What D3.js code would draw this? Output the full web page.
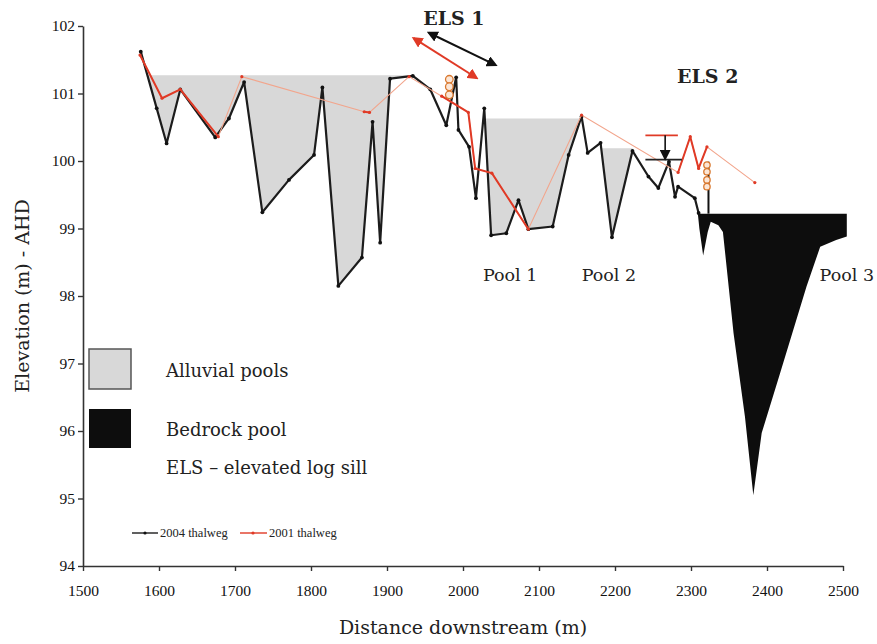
<!DOCTYPE html>
<html>
<head>
<meta charset="utf-8">
<script src="https://cdn.jsdelivr.net/npm/d3@7"></script>
<style>
body { margin: 0; background: #fff; }
svg { display: block; }
.lbl { font-family: "DejaVu Serif", serif; fill: #222; }
</style>
</head>
<body>
<div id="chart"></div>
<script>
// 2004 thalweg survey [distance, elevation]
const thalweg2004 = [
    [1576, 101.62], [1597, 100.78], [1610, 100.26], [1628, 101.06], [1674, 100.35], [1692, 100.63],
    [1712, 101.17], [1736, 99.24], [1771, 99.72], [1804, 100.09], [1815, 101.09], [1836, 98.15],
    [1867, 98.57], [1881, 100.58], [1891, 98.79], [1904, 101.22], [1934, 101.26], [1957, 101.06],
    [1978, 100.53], [1991, 101.24], [1994, 100.46], [2008, 100.21], [2017, 99.45], [2028, 100.78],
    [2037, 98.9], [2057, 98.93], [2073, 99.42], [2086, 98.99], [2118, 99.03], [2139, 100.09],
    [2156, 100.66], [2164, 100.12], [2181, 100.27], [2196, 98.87], [2223, 100.15], [2244, 99.77],
    [2257, 99.6], [2271, 99.99], [2279, 99.47], [2283, 99.62], [2305, 99.45], [2310, 99.23]
];
// 2001 thalweg survey
const thalweg2001 = [
    [1575, 101.57], [1604, 100.93], [1628, 101.06], [1678, 100.36], [1709, 101.25], [1870, 100.73],
    [1877, 100.72], [1929, 101.25], [1972, 100.96], [2007, 100.72], [2016, 99.89], [2038, 99.82],
    [2086, 98.99], [2156, 100.68], [2283, 99.83], [2299, 100.36], [2310, 99.89], [2321, 100.21],
    [2384, 99.68]
];
// index ranges of the 2001 line that were surveyed continuously (rest drawn faint)
const solidRuns2001 = [[0, 3], [5, 6], [8, 12], [14, 17]];
// alluvial pools: [start, end, water level]
const alluvialPools = [[1576, 1934, 101.27], [2028, 2156, 100.63], [2181, 2223, 100.19]];
// bedrock pool outline
const bedrockPool = [
    [2309, 99.22], [2505, 99.22], [2505, 98.88], [2491, 98.83], [2470, 98.73], [2452, 98.14],
    [2417, 96.85], [2393, 95.97], [2382, 95.05], [2371, 96.21], [2356, 97.45], [2342, 98.95],
    [2336, 99.05], [2326, 99.1], [2322, 98.95], [2316, 98.6], [2311, 99.0]
];
const poolNames = ["Pool 1", "Pool 2", "Pool 3"];
const poolNameX = [2062, 2192, 2505];
const xTicks = [1500, 1600, 1700, 1800, 1900, 2000, 2100, 2200, 2300, 2400, 2500];
const yTicks = [94, 95, 96, 97, 98, 99, 100, 101, 102];
// elevated log sills
const els1LogX = 1982, els1Logs = [101.21, 101.1, 100.98];
const els2LogX = 2321, els2Logs = [99.94, 99.84, 99.72, 99.62];
const els2Post = [[2323, 99.99], [2323, 99.22]];
const els2Drop = [2240, 2288, 100.38, 100.02];   // x0, x1, old crest, new crest
const els1Arrow2004 = [[1955, 101.9], [2043, 101.42]];
const els1Arrow2001 = [[1935, 101.82], [2018, 101.23]];

const W = 877, H = 644;
const svg = d3.select('#chart').append('svg').attr('width', W).attr('height', H);
const x = d3.scaleLinear().domain([1500, 2500]).range([83, 843]);
const y = d3.scaleLinear().domain([94, 102]).range([566, 26]);

const defs = svg.append('defs');
function marker(id, color, size) {
    defs.append('marker').attr('id', id).attr('viewBox', '0 0 10 10')
        .attr('refX', 8).attr('refY', 5).attr('markerWidth', size).attr('markerHeight', size)
        .attr('orient', 'auto-start-reverse').attr('markerUnits', 'userSpaceOnUse')
        .append('path').attr('d', 'M0,0L10,5L0,10z').attr('fill', color);
}
marker('ahBlack', '#111', 11);
marker('ahRed', '#e03a26', 11);

// pools
function interp(pts, xv) {
    for (let i = 1; i < pts.length; i++) {
        if (xv <= pts[i][0]) {
            const [x0, y0] = pts[i - 1], [x1, y1] = pts[i];
            return y0 + (y1 - y0) * (xv - x0) / (x1 - x0);
        }
    }
    return pts[pts.length - 1][1];
}
function poolProfile(pts, a, b, level) {
    const xs = [a, b];
    pts.forEach(p => { if (p[0] > a && p[0] < b) xs.push(p[0]); });
    for (let i = 1; i < pts.length; i++) {
        const [x0, y0] = pts[i - 1], [x1, y1] = pts[i];
        if ((y0 - level) * (y1 - level) < 0) {
            const xc = x0 + (level - y0) * (x1 - x0) / (y1 - y0);
            if (xc > a && xc < b) xs.push(xc);
        }
    }
    xs.sort((m, n) => m - n);
    return xs.map(v => [v, Math.min(interp(pts, v), level)]);
}
const poolG = svg.append('g');
alluvialPools.forEach(([a, b, level]) => {
    const area = d3.area().x(d => x(d[0])).y0(y(level)).y1(d => y(d[1]));
    poolG.append('path').attr('d', area(poolProfile(thalweg2004, a, b, level))).attr('fill', '#d8d8d8');
});
svg.append('path')
    .attr('d', d3.line().x(d => x(d[0])).y(d => y(d[1]))(bedrockPool) + 'Z')
    .attr('fill', '#0d0d0d');

// axes
const yAxis = svg.append('g').attr('transform', 'translate(83,0)')
    .call(d3.axisLeft(y).tickValues(yTicks).tickSize(5).tickSizeOuter(0).tickPadding(3).tickFormat(d3.format('d')));
const xAxis = svg.append('g').attr('transform', 'translate(0,566)')
    .call(d3.axisBottom(x).tickValues(xTicks).tickSize(5).tickSizeOuter(0).tickPadding(14).tickFormat(d3.format('d')));
[yAxis, xAxis].forEach(g => {
    g.attr('font-family', '"Liberation Serif", serif').attr('font-size', 15.5);
    g.select('.domain').attr('stroke', '#333').attr('stroke-width', 1.6);
    g.selectAll('.tick line').attr('stroke', '#333').attr('stroke-width', 1.4);
    g.selectAll('.tick text').attr('fill', '#111');
});

svg.append('text').attr('class', 'lbl').attr('x', 463).attr('y', 634)
    .attr('text-anchor', 'middle').attr('font-size', 19).text('Distance downstream (m)');
svg.append('text').attr('class', 'lbl').attr('transform', 'translate(29,296) rotate(-90)')
    .attr('text-anchor', 'middle').attr('font-size', 19).text('Elevation (m) - AHD');

// thalweg lines
const line = d3.line().x(d => x(d[0])).y(d => y(d[1]));
svg.append('path').attr('d', line(thalweg2004)).attr('fill', 'none')
    .attr('stroke', '#1c1c1c').attr('stroke-width', 2.2).attr('stroke-linejoin', 'round');
svg.append('g').selectAll('circle').data(thalweg2004).join('circle')
    .attr('cx', d => x(d[0])).attr('cy', d => y(d[1])).attr('r', 1.9).attr('fill', '#111');

svg.append('path').attr('d', line(thalweg2001)).attr('fill', 'none')
    .attr('stroke', '#f2a58c').attr('stroke-width', 1.1);
solidRuns2001.forEach(([i0, i1]) => {
    svg.append('path').attr('d', line(thalweg2001.slice(i0, i1 + 1))).attr('fill', 'none')
        .attr('stroke', '#e03a26').attr('stroke-width', 2).attr('stroke-linejoin', 'round');
});
svg.append('g').selectAll('circle').data(thalweg2001).join('circle')
    .attr('cx', d => x(d[0])).attr('cy', d => y(d[1])).attr('r', 1.6).attr('fill', '#e03a26');

// ELS 1
svg.append('text').attr('class', 'lbl').attr('x', x(1988)).attr('y', 25).attr('text-anchor', 'middle')
    .attr('font-size', 19).attr('font-weight', 'bold').attr('fill', '#111').text('ELS 1');
svg.append('line').attr('x1', x(els1Arrow2004[0][0])).attr('y1', y(els1Arrow2004[0][1]))
    .attr('x2', x(els1Arrow2004[1][0])).attr('y2', y(els1Arrow2004[1][1]))
    .attr('stroke', '#111').attr('stroke-width', 2)
    .attr('marker-start', 'url(#ahBlack)').attr('marker-end', 'url(#ahBlack)');
svg.append('line').attr('x1', x(els1Arrow2001[0][0])).attr('y1', y(els1Arrow2001[0][1]))
    .attr('x2', x(els1Arrow2001[1][0])).attr('y2', y(els1Arrow2001[1][1]))
    .attr('stroke', '#e03a26').attr('stroke-width', 2)
    .attr('marker-start', 'url(#ahRed)').attr('marker-end', 'url(#ahRed)');
svg.append('g').selectAll('circle').data(els1Logs).join('circle')
    .attr('cx', x(els1LogX)).attr('cy', d => y(d)).attr('r', 3.8)
    .attr('fill', '#fbe6d6').attr('stroke', '#d9782e').attr('stroke-width', 1.3);

// ELS 2
svg.append('text').attr('class', 'lbl').attr('x', x(2322)).attr('y', 83).attr('text-anchor', 'middle')
    .attr('font-size', 19).attr('font-weight', 'bold').attr('fill', '#111').text('ELS 2');
svg.append('line').attr('x1', x(els2Drop[0])).attr('x2', x(els2Drop[1]) - 4)
    .attr('y1', y(els2Drop[2])).attr('y2', y(els2Drop[2])).attr('stroke', '#e03a26').attr('stroke-width', 1.8);
svg.append('line').attr('x1', x(els2Drop[0])).attr('x2', x(els2Drop[1]))
    .attr('y1', y(els2Drop[3])).attr('y2', y(els2Drop[3])).attr('stroke', '#222').attr('stroke-width', 1.8);
svg.append('line').attr('x1', x(2266)).attr('x2', x(2266))
    .attr('y1', y(els2Drop[2])).attr('y2', y(els2Drop[3]) - 1)
    .attr('stroke', '#111').attr('stroke-width', 1.6).attr('marker-end', 'url(#ahBlack)');
svg.append('path').attr('d', line(els2Post)).attr('stroke', '#111').attr('stroke-width', 2);
svg.append('g').selectAll('circle').data(els2Logs).join('circle')
    .attr('cx', x(els2LogX)).attr('cy', d => y(d)).attr('r', 3.2)
    .attr('fill', '#fbe6d6').attr('stroke', '#d9782e').attr('stroke-width', 1.3);

// pool names
svg.append('g').selectAll('text').data(poolNames).join('text').attr('class', 'lbl')
    .attr('x', (d, i) => x(poolNameX[i])).attr('y', 281).attr('text-anchor', 'middle')
    .attr('font-size', 17.5).text(d => d);

// legend: fills
svg.append('rect').attr('x', 89).attr('y', 349).attr('width', 42).attr('height', 40)
    .attr('fill', '#d8d8d8').attr('stroke', '#555').attr('stroke-width', 1.5);
svg.append('rect').attr('x', 89).attr('y', 409).attr('width', 42).attr('height', 39).attr('fill', '#0d0d0d');
const legendText = ['Alluvial pools', 'Bedrock pool', 'ELS – elevated log sill'];
const legendY = [377, 436, 474];
svg.append('g').selectAll('text').data(legendText).join('text').attr('class', 'lbl')
    .attr('x', 166).attr('y', (d, i) => legendY[i]).attr('font-size', 18).text(d => d);

// legend: lines
const lg = svg.append('g').attr('font-family', '"Liberation Serif", serif').attr('font-size', 12.5).attr('fill', '#222');
lg.append('line').attr('x1', 132).attr('x2', 158).attr('y1', 533).attr('y2', 533).attr('stroke', '#1c1c1c').attr('stroke-width', 1.4);
lg.append('circle').attr('cx', 145).attr('cy', 533).attr('r', 1.6).attr('fill', '#111');
lg.append('text').attr('x', 160).attr('y', 537).text('2004 thalweg');
lg.append('line').attr('x1', 240).attr('x2', 267).attr('y1', 533).attr('y2', 533).attr('stroke', '#e03a26').attr('stroke-width', 1.4);
lg.append('circle').attr('cx', 253).attr('cy', 533).attr('r', 1.6).attr('fill', '#e03a26');
lg.append('text').attr('x', 269).attr('y', 537).text('2001 thalweg');
</script>
</body>
</html>
